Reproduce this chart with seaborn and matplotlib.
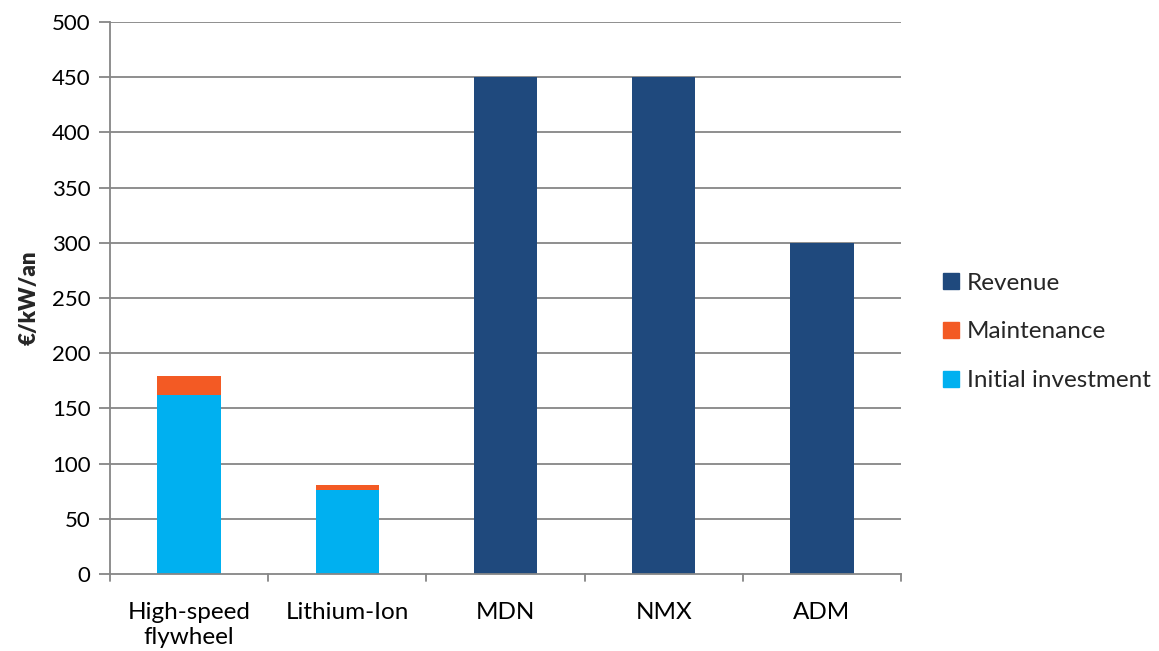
import matplotlib
matplotlib.use("Agg")
import matplotlib.pyplot as plt
import seaborn as sns
import pandas as pd
from matplotlib.patches import Patch

categories = ["High-speed\nflywheel", "Lithium-Ion", "MDN", "NMX", "ADM"]
initial_investment = [162, 76, 0, 0, 0]
maintenance = [17, 4.5, 0, 0, 0]
revenue = [0, 0, 450, 450, 300]

c_rev = "#1F497D"
c_mnt = "#F35A24"
c_inv = "#00B0F0"
grid_c = "#868686"

sns.set_theme(style="white")
plt.rcParams["font.family"] = ["Lato", "DejaVu Sans"]

df = pd.DataFrame({
    "cat": categories,
    "inv": initial_investment,
    "mnt": maintenance,
    "rev": revenue,
})
df["stack"] = df["inv"] + df["mnt"]

fig = plt.figure(figsize=(11.59, 6.51), dpi=100)
ax = fig.add_axes([110 / 1159, 1 - 574 / 651, (901 - 110) / 1159, (574 - 22) / 651])

kw = dict(x="cat", order=categories, width=0.4, ax=ax, linewidth=0, saturation=1, zorder=3)
sns.barplot(data=df, y="stack", color=c_mnt, **kw)
sns.barplot(data=df, y="inv", color=c_inv, **kw)
sns.barplot(data=df, y="rev", color=c_rev, **kw)

ax.set_ylim(0, 500)
ax.set_xlim(-0.5, len(categories) - 0.5)
ax.set_yticks(range(0, 501, 50))
ax.set_xticks(range(len(categories)))
ax.set_xticklabels(categories, fontsize=17.5, color="black", linespacing=1.25)
ax.tick_params(axis="y", labelsize=16, colors=grid_c, labelcolor="black",
               length=8, width=1.3, direction="out", left=True, pad=6)
ax.tick_params(axis="x", length=0, pad=20)

# category boundary ticks on the x axis
for b in range(len(categories) + 1):
    ax.plot([b - 0.5, b - 0.5], [0, -0.013], transform=ax.get_xaxis_transform(),
            color=grid_c, lw=1.3, clip_on=False, zorder=4)

for v in range(50, 501, 50):
    ax.axhline(v, color=grid_c, lw=1.3, zorder=1)

for s in ["top", "right"]:
    ax.spines[s].set_visible(False)
for s in ["left", "bottom"]:
    ax.spines[s].set_color(grid_c)
    ax.spines[s].set_linewidth(1.3)
    ax.spines[s].set_zorder(5)

ax.set_xlabel("")
ax.set_ylabel("€/kW/an", fontsize=16, fontweight="heavy", labelpad=9)

handles = [Patch(color=c_rev, label="Revenue"),
           Patch(color=c_mnt, label="Maintenance"),
           Patch(color=c_inv, label="Initial investment")]
leg = fig.legend(handles=handles, loc="center left", bbox_to_anchor=(933 / 1159, 1 - 332 / 651),
                 frameon=False, fontsize=17.5, handlelength=0.68, handleheight=0.68,
                 handletextpad=0.3, labelspacing=1.15, borderaxespad=0)

fig.savefig("out.png", dpi=100)
